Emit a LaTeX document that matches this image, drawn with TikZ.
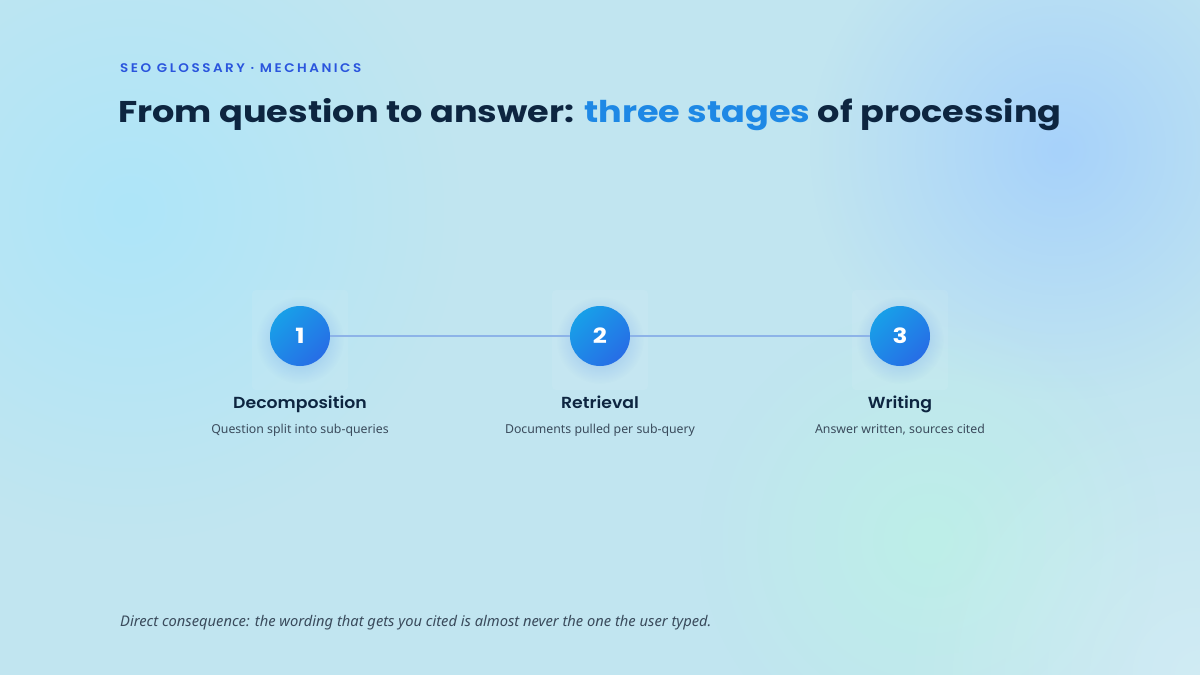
\documentclass[tikz,border=0pt]{standalone}
\usepackage{fontspec}
\setmainfont{Noto Sans}
\newfontfamily\headfont{Poppins}[UprightFont=* Bold, FakeStretch=1.17]
\newfontfamily\namefont{Poppins}[UprightFont=* SemiBold, FakeStretch=1.08]
\newfontfamily\eyefont{Poppins}[UprightFont=* SemiBold, LetterSpace=20, FakeStretch=1.08]
\usetikzlibrary{positioning,fadings}

\definecolor{bgbase}{HTML}{C1E5F0}
\definecolor{blobcyan}{HTML}{AEE6F9}
\definecolor{blobblue}{HTML}{A7D2FB}
\definecolor{blobmint}{HTML}{BDEFE8}
\definecolor{navy}{HTML}{0D2540}
\definecolor{accent}{HTML}{1E88E5}
\definecolor{eyeblue}{HTML}{2A55DD}
\definecolor{linkline}{HTML}{8DB3E8}
\definecolor{stepA}{HTML}{189FE8}
\definecolor{stepB}{HTML}{276DE6}
\definecolor{subgray}{HTML}{3A4B5C}

\tikzfading[name=blobfade, inner color=transparent!0, outer color=transparent!100]

\tikzset{
  stepdot/.style={circle, minimum size=60pt, inner sep=0pt, text=white,
    shade, top color=stepA, bottom color=stepB, shading angle=45,
    font=\headfont\fontsize{21}{21}\selectfont},
  stepname/.style={text=navy, font=\namefont\fontsize{16}{18}\selectfont},
  stepnote/.style={text=subgray, font=\fontsize{12.3}{14}\selectfont},
  card/.style={fill=white, fill opacity=0.07, rounded corners=4pt},
}

\begin{document}
\begin{tikzpicture}[x=1pt, y=-1pt]
  % Background
  \useasboundingbox (0,0) rectangle (1200,675);
  \fill[bgbase] (0,0) rectangle (1200,675);
  \fill[blobcyan, path fading=blobfade] (130,210) circle (330);
  \fill[blobblue, path fading=blobfade] (1060,150) circle (250);
  \fill[blobmint, path fading=blobfade] (930,540) circle (230);
  \fill[white, opacity=0.25, path fading=blobfade] (1200,675) circle (300);

  % Heading
  \node[anchor=base west, text=eyeblue, font=\eyefont\fontsize{12.5}{14}\selectfont,
    inner sep=0pt] (eyebrow) at (120,72) {SEO GLOSSARY · MECHANICS};
  \node[anchor=base west, text=navy, font=\headfont\fontsize{30}{34}\selectfont,
    inner sep=0pt] (title) at (118,122)
    {From question to answer: \textcolor{accent}{three stages} of processing};

  % Steps
  \foreach \i/\x in {1/300, 2/600, 3/900} {
    \fill[card] (\x-48,290) rectangle (\x+48,390);
    \fill[stepB, opacity=0.35, path fading=blobfade] (\x,340) circle (44);
  }
  \node[stepdot] (one) at (300,336) {1};
  \node[stepdot] (two) at (600,336) {2};
  \node[stepdot] (three) at (900,336) {3};
  \draw[linkline, line width=2pt] (one) -- (two);
  \draw[linkline, line width=2pt] (two) -- (three);

  \node[stepname, anchor=base] (nameone) at (300,408) {Decomposition};
  \node[stepname, anchor=base] (nametwo) at (600,408) {Retrieval};
  \node[stepname, anchor=base] (namethree) at (900,408) {Writing};
  \node[stepnote, anchor=base] (noteone) at (300,433) {Question split into sub-queries};
  \node[stepnote, anchor=base] (notetwo) at (600,433) {Documents pulled per sub-query};
  \node[stepnote, anchor=base] (notethree) at (900,433) {Answer written, sources cited};

  % Footer
  \node[anchor=base west, inner sep=0pt, text=subgray,
    font=\itshape\fontsize{14.7}{16}\selectfont] (footnote) at (120,626)
    {Direct consequence: the wording that gets you cited is almost never the one the user typed.};
\end{tikzpicture}
\end{document}
